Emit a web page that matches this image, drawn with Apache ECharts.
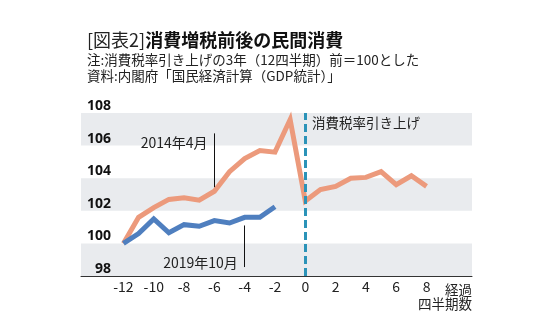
<!DOCTYPE html>
<html>
<head>
<meta charset="utf-8">
<script src="https://cdn.jsdelivr.net/npm/echarts@6/dist/echarts.min.js"></script>
<style>
  html, body { margin: 0; padding: 0; background: #ffffff; }
  #chart { width: 549px; height: 326px; }
</style>
</head>
<body>
<div id="chart"></div>
<script>
// Quarters relative to the tax hike (0 = hike quarter)
const quarters2014 = [-12, -11, -10, -9, -8, -7, -6, -5, -4, -3, -2, -1, 0, 1, 2, 3, 4, 5, 6, 7, 8];
const values2014 = [100.0, 101.6, 102.2, 102.7, 102.8, 102.65, 103.2, 104.4, 105.2, 105.7, 105.6, 107.6, 102.6, 103.3, 103.5, 104.0, 104.05, 104.4, 103.6, 104.15, 103.5];
const quarters2019 = [-12, -11, -10, -9, -8, -7, -6, -5, -4, -3, -2];
const values2019 = [100.0, 100.6, 101.5, 100.65, 101.15, 101.05, 101.4, 101.25, 101.6, 101.6, 102.25];
const xTickLabels = [-12, -10, -8, -6, -4, -2, 0, 2, 4, 6, 8];
const yTickLabels = [98, 100, 102, 104, 106, 108];
const shadedBands = [[98, 100], [102, 104], [106, 108]];

const FONT = '"Noto Sans CJK JP", "Noto Sans", sans-serif';
const ORANGE = '#ec9a7c';
const BLUE = '#4f7fbf';

const chart = echarts.init(document.getElementById('chart'), null, { renderer: 'canvas' });

const pairs = (xs, ys) => xs.map((x, i) => [x, ys[i]]);

chart.setOption({
  backgroundColor: '#ffffff',
  animation: false,
  textStyle: { fontFamily: FONT },
  title: [
    {
      left: 82, top: 26,
      text: '{a|[図表2]}{b|消費増税前後の民間消費}',
      textStyle: {
        rich: {
          a: { fontFamily: FONT, fontSize: 18, fontWeight: 'normal', color: '#222' },
          b: { fontFamily: FONT, fontSize: 18, fontWeight: 'bold', color: '#111' }
        }
      }
    },
    {
      left: 82, top: 48,
      text: '注:消費税率引き上げの3年（12四半期）前＝100とした',
      textStyle: { fontFamily: FONT, fontSize: 13.5, fontWeight: 'normal', color: '#222' }
    },
    {
      left: 82, top: 64,
      text: '資料:内閣府「国民経済計算（GDP統計）」',
      textStyle: { fontFamily: FONT, fontSize: 13.5, fontWeight: 'normal', color: '#222' }
    }
  ],
  grid: { left: 81, right: 77, top: 113, bottom: 50 },
  xAxis: {
    type: 'value',
    min: -14.8,
    max: 11,
    z: 3,
    axisLine: { show: true, lineStyle: { color: '#333', width: 1 } },
    axisTick: { show: false },
    splitLine: { show: false },
    axisLabel: {
      customValues: xTickLabels,
      margin: 4,
      fontFamily: FONT,
      fontSize: 14,
      color: '#222'
    }
  },
  yAxis: {
    type: 'value',
    min: yTickLabels[0],
    max: yTickLabels[yTickLabels.length - 1],
    interval: 2,
    z: 2,
    axisLine: { show: false },
    axisTick: { show: false },
    splitLine: { show: false },
    axisLabel: {
      customValues: yTickLabels,
      hideOverlap: false,
      verticalAlign: 'bottom',
      margin: -30,
      fontFamily: '"Noto Sans", sans-serif',
      fontSize: 14,
      fontWeight: 'bold',
      color: '#111'
    }
  },
  graphic: [
    {
      type: 'text', right: 77, top: 283,
      style: { text: '経過', font: '13.5px ' + FONT, fill: '#222', textAlign: 'right' }
    },
    {
      type: 'text', right: 77, top: 297,
      style: { text: '四半期数', font: '13.5px ' + FONT, fill: '#222', textAlign: 'right' }
    }
  ],
  series: [
    {
      // shaded background bands
      type: 'line',
      data: [],
      silent: true,
      z: 1,
      markArea: {
        silent: true,
        itemStyle: { color: '#e9ebee' },
        data: shadedBands.map(b => [{ yAxis: b[0], xAxis: -14.8 }, { yAxis: b[1], xAxis: 11 }])
      }
    },
    {
      name: '2014年4月',
      type: 'line',
      data: pairs(quarters2014, values2014),
      symbol: 'none',
      z: 3,
      lineStyle: { color: ORANGE, width: 5, join: 'miter' },
      markLine: {
        silent: true,
        symbol: 'none',
        label: { show: false },
        data: [
          [{ coord: [0, 98], lineStyle: { color: '#2b93b8', width: 3, type: [8, 4] } },
           { coord: [0, 108] }],
          [{ coord: [-6, 106.75], lineStyle: { color: '#111', width: 1, type: 'solid' } },
           { coord: [-6, 103.45] }],
          [{ coord: [-4, 101.1], lineStyle: { color: '#111', width: 1, type: 'solid' } },
           { coord: [-4, 98.55] }]
        ]
      },
      markPoint: {
        silent: true,
        symbol: 'circle',
        symbolSize: 0,
        data: [
          {
            coord: [-6.45, 106.15],
            label: { show: true, position: 'left', distance: 0, formatter: '2014年4月',
                     fontFamily: FONT, fontSize: 14, color: '#222' }
          },
          {
            coord: [-4.45, 98.8],
            label: { show: true, position: 'left', distance: 0, formatter: '2019年10月',
                     fontFamily: FONT, fontSize: 14, color: '#222' }
          },
          {
            coord: [0.45, 107.37],
            label: { show: true, position: 'right', distance: 0, formatter: '消費税率引き上げ',
                     fontFamily: FONT, fontSize: 13.5, color: '#222' }
          }
        ]
      }
    },
    {
      name: '2019年10月',
      type: 'line',
      data: pairs(quarters2019, values2019),
      symbol: 'none',
      z: 4,
      lineStyle: { color: BLUE, width: 5, join: 'miter' }
    }
  ]
});
</script>
</body>
</html>
